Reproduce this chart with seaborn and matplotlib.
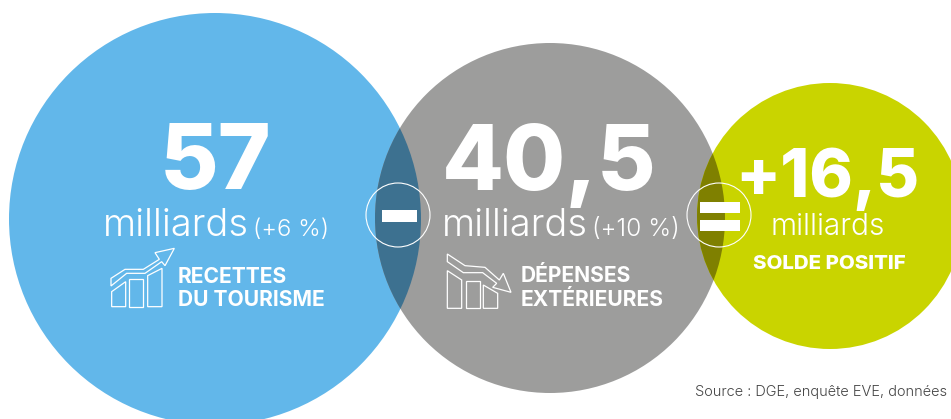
import matplotlib
matplotlib.use("Agg")
import matplotlib.pyplot as plt
from matplotlib.patches import Circle, Polygon, Rectangle
import pandas as pd
import seaborn as sns

# Tourism balance figures, in billions of euros
categories = ["Recettes du tourisme", "Dépenses extérieures", "Solde positif"]
amounts = [57, 40.5, 16.5]
changes = ["(+6 %)", "(+10 %)", None]
unit = "milliards"
source_note = "Source : DGE, enquête EVE, données"

BLUE, GREY, GREEN = "#62B7EA", "#9D9D9C", "#C9D400"
LENS_BLUE, LENS_GREEN = "#3D7190", "#7F8000"
WHITE = "white"
FIG_W, FIG_H = 951, 419
PX = 0.72  # pixels to points at 100 dpi

centres_x = [215, 550, 830]
centres_y = [219, 218, 216]
radii = [206, 175, 133]

sns.set_theme(style="white")
plt.rcParams["font.family"] = ["Inter", "DejaVu Sans"]

fig = plt.figure(figsize=(FIG_W / 100, FIG_H / 100), dpi=100)
ax = fig.add_axes([0, 0, 1, 1])

frame = pd.DataFrame({"category": categories, "x": centres_x, "y": centres_y, "r": radii})
sns.scatterplot(
    data=frame, x="x", y="y", hue="category", size="category",
    palette=dict(zip(categories, [BLUE, GREY, GREEN])),
    sizes={c: (2 * r * PX) ** 2 for c, r in zip(categories, radii)},
    linewidth=0, alpha=1, legend=False, ax=ax, clip_on=True,
)
ax.set_xlim(0, FIG_W)
ax.set_ylim(FIG_H, 0)
ax.set_axis_off()


def lens(i, j, colour):
    """Fill the overlap of two neighbouring circles."""
    outer = Circle((centres_x[i], centres_y[i]), radii[i], transform=ax.transData)
    inner = Circle((centres_x[j], centres_y[j]), radii[j], fc=colour, lw=0, zorder=3)
    ax.add_patch(inner)
    inner.set_clip_path(outer)


lens(0, 1, LENS_BLUE)
lens(1, 2, LENS_GREEN)


def label(x, y, s, px, weight=400, ha="left", colour=WHITE, **kw):
    ax.text(x, y, s, fontsize=px * PX, fontweight=weight, ha=ha, va="baseline",
            color=colour, zorder=6, **kw)


def fmt(v):
    return f"{v:g}".replace(".", ",")


# Large amounts
label(215.5, 189, fmt(amounts[0]), 90, 800, "center")
label(549, 190, fmt(amounts[1]), 90, 800, "center")
label(827, 197, "+" + fmt(amounts[2]), 66, 800, "center")

# Unit and year-on-year change
label(103, 236, unit, 38, 300)
label(253, 236, changes[0], 24, 300)
label(442, 236, unit, 38, 300)
label(592, 236, changes[1], 24.5, 300)
label(828, 235, unit, 30, 300, "center")

# Captions
label(178, 283, "RECETTES", 21, 700)
label(178, 306, "DU TOURISME", 21, 700)
label(521, 282, "DÉPENSES", 21, 700)
label(521, 306, "EXTÉRIEURES", 21, 700)
label(829, 269, "SOLDE POSITIF", 20.5, 800, "center")

label(695, 396, source_note, 14.6, 300, colour="#444444")

# Minus and equals operators in outlined rings
for cx in (398, 719):
    ax.add_patch(Circle((cx, 215), 32, fc="none", ec=WHITE, lw=0.8, zorder=4))
ax.add_patch(Rectangle((382, 210), 35, 12, fc=WHITE, lw=0, zorder=5))
ax.add_patch(Rectangle((700, 202), 40, 11, fc=WHITE, lw=0, zorder=5))
ax.add_patch(Rectangle((700, 220), 40, 11, fc=WHITE, lw=0, zorder=5))


def icon(shapes, ox, oy):
    """Outline pictogram; shape vertices are in thirds of a pixel."""
    for pts in shapes:
        xy = [(ox + a / 3, oy + b / 3) for a, b in pts]
        ax.add_patch(Polygon(xy, closed=True, fc="none", ec=WHITE, lw=0.9,
                             joinstyle="miter", zorder=5))


icon([
    [(65, 575), (107, 545), (107, 620), (65, 620)],
    [(118, 538), (160, 538), (160, 620), (118, 620)],
    [(173, 527), (216, 505), (216, 620), (173, 620)],
    [(63, 535), (105, 508), (160, 508), (208, 478), (195, 458), (253, 445),
     (225, 497), (215, 485), (165, 520), (110, 520), (63, 558)],
], 90, 100)

icon([
    [(52, 122), (95, 150), (95, 235), (52, 235)],
    [(107, 153), (150, 153), (150, 235), (107, 235)],
    [(160, 165), (203, 190), (203, 235), (160, 235)],
    [(52, 72), (105, 107), (165, 112), (208, 150), (220, 130), (243, 187),
     (188, 172), (200, 160), (158, 128), (100, 128), (52, 95)],
], 430, 230)

fig.savefig("out.png", dpi=100)
